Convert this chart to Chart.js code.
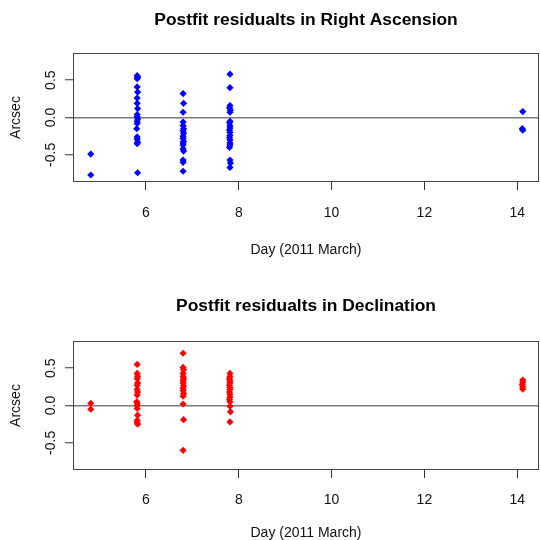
<!DOCTYPE html>
<html>
<head>
<meta charset="utf-8">
<script src="https://cdn.jsdelivr.net/npm/chart.js@4.4.1/dist/chart.umd.min.js"></script>
<style>
  html, body { margin: 0; padding: 0; background: #fff; overflow: hidden; }
  body { width: 540px; height: 540px; position: relative; }
  canvas { position: absolute; left: 0; }
</style>
</head>
<body>
<canvas id="ra" width="540" height="270" style="top:0px"></canvas>
<canvas id="dec" width="540" height="270" style="top:288px"></canvas>
<script>
// residuos en ascension recta (arcsec) por dia de marzo 2011
const raDay = [
  4.81, 4.81,
  5.81, 5.82, 5.81, 5.81, 5.82, 5.81, 5.81, 5.82, 5.81, 5.81, 5.82, 5.81, 5.81, 5.80, 5.81, 5.81, 5.82, 5.81, 5.82,
  6.80, 6.81, 6.80, 6.80, 6.80, 6.81, 6.80, 6.81, 6.80, 6.80, 6.81, 6.80, 6.80, 6.80, 6.81, 6.80, 6.80, 6.80,
  7.81, 7.81, 7.81, 7.80, 7.82, 7.81, 7.81, 7.80, 7.81, 7.81, 7.80, 7.81, 7.81, 7.80, 7.81, 7.81, 7.81, 7.80, 7.81, 7.82, 7.81,
  14.12, 14.11, 14.12
];
const raArcsec = [
  -0.49, -0.77,
  0.56, 0.54, 0.52, 0.41, 0.34, 0.26, 0.19, 0.12, 0.04, 0.01, -0.02, -0.05, -0.08, -0.15, -0.26, -0.29, -0.33, -0.35, -0.74,
  0.32, 0.19, 0.07, -0.06, -0.11, -0.15, -0.18, -0.21, -0.25, -0.28, -0.32, -0.34, -0.37, -0.42, -0.45, -0.57, -0.60, -0.72,
  0.58, 0.40, 0.16, 0.13, 0.10, 0.07, -0.05, -0.07, -0.11, -0.14, -0.17, -0.20, -0.24, -0.27, -0.30, -0.34, -0.37, -0.40, -0.57, -0.61, -0.67,
  0.08, -0.15, -0.17
];

// residuos en declinacion
const decDay = [
  4.81, 4.81,
  5.81, 5.81, 5.82, 5.81, 5.82, 5.81, 5.81, 5.82, 5.81, 5.80, 5.81, 5.81, 5.81, 5.82, 5.81, 5.81, 5.82,
  6.80, 6.80, 6.81, 6.80, 6.80, 6.81, 6.80, 6.80, 6.81, 6.80, 6.80, 6.81, 6.80, 6.80, 6.81, 6.80,
  7.81, 7.81, 7.80, 7.81, 7.81, 7.80, 7.81, 7.81, 7.80, 7.81, 7.81, 7.80, 7.81, 7.81, 7.82, 7.81,
  14.12, 14.12, 14.11, 14.12, 14.12
];
const decArcsec = [
  0.03, -0.05,
  0.55, 0.43, 0.39, 0.36, 0.30, 0.27, 0.215, 0.18, 0.14, 0.05, 0.03, 0.00, -0.04, -0.13, -0.20, -0.23, -0.25,
  0.70, 0.51, 0.48, 0.43, 0.39, 0.36, 0.33, 0.30, 0.26, 0.23, 0.20, 0.16, 0.125, 0.02, -0.19, -0.60,
  0.43, 0.39, 0.36, 0.33, 0.30, 0.27, 0.24, 0.215, 0.18, 0.15, 0.115, 0.08, 0.05, -0.01, -0.085, -0.22,
  0.34, 0.31, 0.28, 0.25, 0.22
];

const xTicks = [6, 8, 10, 12, 14];
const yTicks = [-0.5, 0, 0.5];

const FONT = "'Liberation Sans', Arial, Helvetica, sans-serif";
const txt = '#111';

// marco tipo R alrededor del area de datos
const boxPlugin = {
  id: 'box',
  beforeDatasetsDraw(chart) {
    const a = chart.chartArea, ctx = chart.ctx;
    ctx.save();
    ctx.strokeStyle = '#444';
    ctx.lineWidth = 1;
    ctx.strokeRect(a.left + 0.5, a.top + 0.5, a.right - a.left - 1, a.bottom - a.top - 1);
    ctx.restore();
  }
};

function panel(id, title, days, vals, color, titleTop, tickPad, xTitleBottom) {
  new Chart(document.getElementById(id), {
    type: 'scatter',
    data: {
      datasets: [{
        data: days.map((d, i) => ({ x: d, y: vals[i] })),
        backgroundColor: color,
        borderWidth: 0,
        pointStyle: 'rectRot',
        pointRadius: 3.6,
        pointHoverRadius: 3.6
      }]
    },
    options: {
      responsive: false,
      animation: false,
      devicePixelRatio: 1,
      layout: { autoPadding: false, padding: { left: 0, right: 1, top: 0, bottom: 0 } },
      plugins: { legend: { display: false }, tooltip: { enabled: false }, title: { display: false } },
      scales: {
        x: {
          type: 'linear', position: 'bottom', min: 4.427, max: 14.47,
          afterBuildTicks: s => { s.ticks = xTicks.map(v => ({ value: v })); },
          afterFit: s => { s.height = 88; s.paddingLeft = 0; s.paddingRight = 0; },
          border: { display: false },
          grid: { display: true, drawOnChartArea: false, drawTicks: true, tickLength: 8, tickColor: '#333', tickWidth: 1 },
          ticks: { autoSkip: false, maxRotation: 0, padding: tickPad, color: txt, font: { family: FONT, size: 14 } },
          title: { display: true, text: 'Day (2011 March)', color: txt, font: { family: FONT, size: 14 }, padding: { top: 0, bottom: xTitleBottom } }
        },
        top: {
          type: 'linear', position: 'top', min: 4.427, max: 14.47,
          afterFit: s => { s.height = 53; s.paddingLeft = 0; s.paddingRight = 0; },
          border: { display: false },
          grid: { display: false },
          ticks: { display: false },
          title: { display: true, text: title, color: '#000', font: { family: FONT, size: 17.4, weight: 'bold' }, padding: { top: titleTop, bottom: 0 } }
        },
        y: {
          type: 'linear', position: 'left', min: -0.864, max: 0.864,
          afterBuildTicks: s => { s.ticks = yTicks.map(v => ({ value: v })); },
          afterFit: s => { s.width = 73; },
          border: { display: false },
          grid: {
            display: true, drawOnChartArea: true, drawTicks: true, tickLength: 8,
            tickColor: '#333', tickWidth: 1,
            color: c => (c.tick && c.tick.value === 0) ? '#7a7a7a' : 'rgba(0,0,0,0)',
            lineWidth: 1.5
          },
          ticks: {
            minRotation: 90, maxRotation: 90, crossAlign: 'center', padding: 2,
            color: txt, font: { family: FONT, size: 14 },
            callback: v => v.toFixed(1)
          },
          title: { display: true, text: 'Arcsec', color: txt, font: { family: FONT, size: 14 }, padding: { top: 7.6, bottom: 0 } }
        }
      }
    },
    plugins: [boxPlugin]
  });
}

panel('ra', 'Postfit residualts in Right Ascension', raDay, raArcsec, '#0000ff', 9.6, 15, 11.5);
panel('dec', 'Postfit residualts in Declination', decDay, decArcsec, '#ff0000', 7.6, 13.5, 16.6);
</script>
</body>
</html>
